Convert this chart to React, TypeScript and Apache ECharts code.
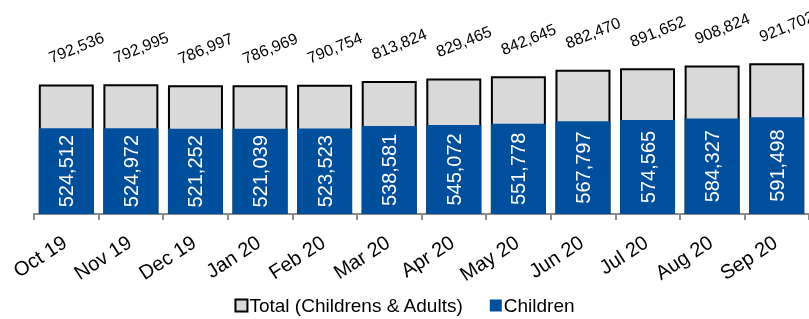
import React, { useEffect, useRef } from "react";
import * as echarts from "echarts";

const categories = ["Oct 19", "Nov 19", "Dec 19", "Jan 20", "Feb 20", "Mar 20", "Apr 20", "May 20", "Jun 20", "Jul 20", "Aug 20", "Sep 20"];
const totalValues = [792536, 792995, 786997, 786969, 790754, 813824, 829465, 842645, 882470, 891652, 908824, 921702];
const childrenValues = [524512, 524972, 521252, 521039, 523523, 538581, 545072, 551778, 567797, 574565, 584327, 591498];

const FONT = "'Liberation Sans', Arial, sans-serif";
const fmt = (v: number) => v.toLocaleString("en-US");

export default function App() {
  const ref = useRef<HTMLDivElement>(null);
  useEffect(() => {
    if (!ref.current) return;
    const chart = echarts.init(ref.current, null, { renderer: "svg" });
    const rot = 22;
    const r = (rot * Math.PI) / 180;
    const vx = 10, vy = -37;
    const ox = vx * Math.cos(r) - vy * Math.sin(r);
    const oy = vx * Math.sin(r) + vy * Math.cos(r);
    chart.setOption({
      animation: false,
      textStyle: { fontFamily: FONT },
      grid: { left: 34, width: 777, top: 50.5, bottom: 105, containLabel: false },
      legend: {
        top: 296,
        padding: 0,
        left: "center",
        icon: "rect",
        itemWidth: 12,
        itemHeight: 12,
        itemGap: 26,
        textStyle: { fontFamily: FONT, fontSize: 19, color: "#000", padding: [0, 0, 0, -3] },
        data: ["Total (Childrens & Adults)", "Children"],
      },
      xAxis: {
        type: "category",
        data: categories,
        axisLine: { lineStyle: { color: "#8c8c8c", width: 2 } },
        axisTick: { show: true, length: 6, lineStyle: { color: "#8c8c8c", width: 2 } },
        axisLabel: {
          rotate: 33,
          fontSize: 20,
          color: "#000",
          fontFamily: FONT,
          margin: 25,
          interval: 0,
          padding: [0, 2, 0, 0],
        },
      },
      yAxis: {
        type: "value",
        min: 0,
        max: 1000000,
        show: false,
      },
      series: [
        {
          name: "Total (Childrens & Adults)",
          type: "bar",
          data: totalValues,
          barWidth: 55,
          itemStyle: { color: "#d9d9d9", borderColor: "#000", borderWidth: 2 },
          label: {
            show: true,
            position: "top",
            distance: 0,
            rotate: rot,
            align: "center",
            verticalAlign: "middle",
            offset: [ox, oy],
            fontSize: 16,
            color: "#000",
            fontFamily: FONT,
            formatter: (p: any) => fmt(p.value),
          },
        },
        {
          name: "Children",
          type: "bar",
          data: childrenValues,
          barWidth: 55,
          barGap: "-100%",
          itemStyle: { color: "#004f9c" },
          label: {
            show: true,
            position: "inside",
            rotate: 90,
            fontSize: 20,
            color: "#fff",
            fontFamily: FONT,
            formatter: (p: any) => fmt(p.value),
          },
        },
      ],
    });
    return () => chart.dispose();
  }, []);
  return <div ref={ref} style={{ position: "fixed", left: 0, top: 0, width: 809, height: 319 }} />;
}
